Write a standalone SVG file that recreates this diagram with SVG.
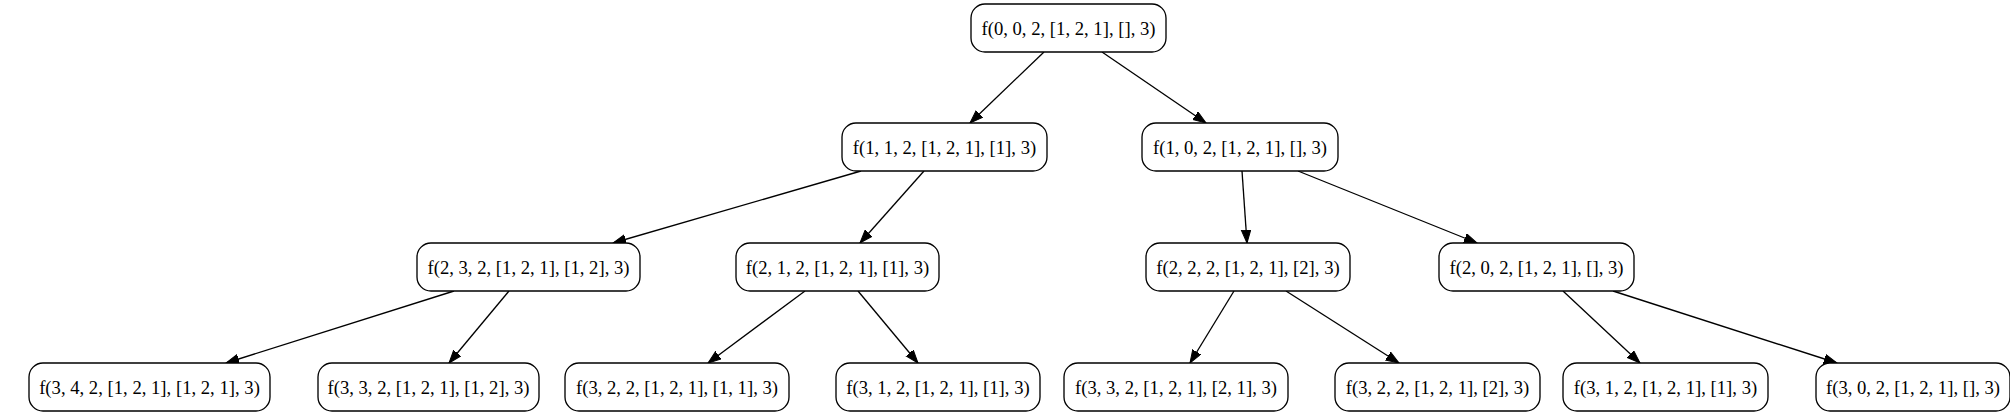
<svg xmlns="http://www.w3.org/2000/svg" width="2010" height="420" viewBox="0 0 2010 420">
<defs>
<style>
.n rect{fill:#fff;stroke:#000;stroke-width:1.33}
.n text{font-family:"Liberation Serif","Times New Roman",serif;font-size:18.67px;text-anchor:middle;fill:#000}
.e line{stroke:#000;stroke-width:1.33;marker-end:url(#ah)}
</style>
<marker id="ah" markerUnits="userSpaceOnUse" markerWidth="16" markerHeight="12" refX="13" refY="5" orient="auto" viewBox="0 0 16 12">
<polygon points="0,0.3 13,5 0,9.7" fill="#000" stroke="#000" stroke-width="1"/>
</marker>
</defs>
<rect width="2010" height="420" fill="#fff"/>
<g id="edges" class="e">
<line x1="1044" y1="52" x2="970" y2="123"/>
<line x1="1102" y1="52" x2="1206" y2="123"/>
<line x1="861" y1="171" x2="613" y2="243"/>
<line x1="924" y1="171" x2="860" y2="243"/>
<line x1="1242" y1="171" x2="1247" y2="243"/>
<line x1="1298" y1="171" x2="1477" y2="243"/>
<line x1="454" y1="291" x2="226" y2="363"/>
<line x1="509" y1="291" x2="449" y2="363"/>
<line x1="805" y1="291" x2="708" y2="363"/>
<line x1="858" y1="291" x2="918" y2="363"/>
<line x1="1234" y1="291" x2="1190" y2="363"/>
<line x1="1286" y1="291" x2="1399" y2="363"/>
<line x1="1563" y1="291" x2="1640" y2="363"/>
<line x1="1613" y1="291" x2="1837" y2="363"/>
</g>
<g id="n0" class="n"><rect x="971" y="4" width="195" height="48" rx="14"/><text x="1068.5" y="34.5">f(0, 0, 2, [1, 2, 1], [], 3)</text></g>
<g id="n1" class="n"><rect x="842" y="123" width="205" height="48" rx="14"/><text x="944.5" y="153.5">f(1, 1, 2, [1, 2, 1], [1], 3)</text></g>
<g id="n2" class="n"><rect x="1142" y="123" width="196" height="48" rx="14"/><text x="1240" y="153.5">f(1, 0, 2, [1, 2, 1], [], 3)</text></g>
<g id="n3" class="n"><rect x="417" y="243" width="223" height="48" rx="14"/><text x="528.5" y="273.5">f(2, 3, 2, [1, 2, 1], [1, 2], 3)</text></g>
<g id="n4" class="n"><rect x="736" y="243" width="203" height="48" rx="14"/><text x="837.5" y="273.5">f(2, 1, 2, [1, 2, 1], [1], 3)</text></g>
<g id="n5" class="n"><rect x="1146" y="243" width="204" height="48" rx="14"/><text x="1248" y="273.5">f(2, 2, 2, [1, 2, 1], [2], 3)</text></g>
<g id="n6" class="n"><rect x="1439" y="243" width="195" height="48" rx="14"/><text x="1536.5" y="273.5">f(2, 0, 2, [1, 2, 1], [], 3)</text></g>
<g id="n7" class="n"><rect x="29" y="363" width="241" height="48" rx="14"/><text x="149.5" y="393.5">f(3, 4, 2, [1, 2, 1], [1, 2, 1], 3)</text></g>
<g id="n8" class="n"><rect x="318" y="363" width="221" height="48" rx="14"/><text x="428.5" y="393.5">f(3, 3, 2, [1, 2, 1], [1, 2], 3)</text></g>
<g id="n9" class="n"><rect x="565" y="363" width="224" height="48" rx="14"/><text x="677" y="393.5">f(3, 2, 2, [1, 2, 1], [1, 1], 3)</text></g>
<g id="n10" class="n"><rect x="836" y="363" width="204" height="48" rx="14"/><text x="938" y="393.5">f(3, 1, 2, [1, 2, 1], [1], 3)</text></g>
<g id="n11" class="n"><rect x="1064" y="363" width="224" height="48" rx="14"/><text x="1176" y="393.5">f(3, 3, 2, [1, 2, 1], [2, 1], 3)</text></g>
<g id="n12" class="n"><rect x="1335" y="363" width="205" height="48" rx="14"/><text x="1437.5" y="393.5">f(3, 2, 2, [1, 2, 1], [2], 3)</text></g>
<g id="n13" class="n"><rect x="1563" y="363" width="205" height="48" rx="14"/><text x="1665.5" y="393.5">f(3, 1, 2, [1, 2, 1], [1], 3)</text></g>
<g id="n14" class="n"><rect x="1816" y="363" width="194" height="48" rx="14"/><text x="1913" y="393.5">f(3, 0, 2, [1, 2, 1], [], 3)</text></g>
</svg>
